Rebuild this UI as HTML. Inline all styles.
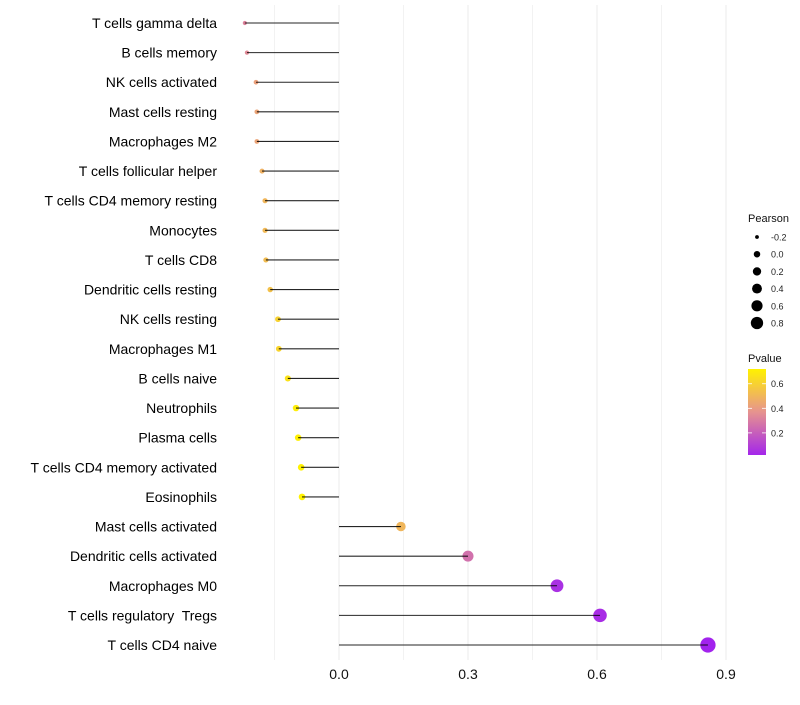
<!DOCTYPE html>
<html><head><meta charset="utf-8"><style>
body{margin:0;background:#fff;font-family:"Liberation Sans",sans-serif}
text{white-space:pre}
</style></head><body>
<svg id="c" width="800" height="700" xmlns="http://www.w3.org/2000/svg"></svg>
<script>
const categories=["T cells gamma delta","B cells memory","NK cells activated","Mast cells resting","Macrophages M2","T cells follicular helper","T cells CD4 memory resting","Monocytes","T cells CD8","Dendritic cells resting","NK cells resting","Macrophages M1","B cells naive","Neutrophils","Plasma cells","T cells CD4 memory activated","Eosinophils","Mast cells activated","Dendritic cells activated","Macrophages M0","T cells regulatory  Tregs","T cells CD4 naive"];
const pearson=[-0.219,-0.214,-0.193,-0.191,-0.191,-0.179,-0.172,-0.172,-0.170,-0.160,-0.142,-0.140,-0.119,-0.100,-0.095,-0.088,-0.086,0.144,0.300,0.507,0.607,0.858];
const pvalue=[0.32,0.34,0.42,0.43,0.43,0.48,0.5,0.51,0.52,0.54,0.6,0.61,0.66,0.7,0.71,0.72,0.72,0.5,0.26,0.05,0.04,0.01];
const xTicks=[0,0.3,0.6,0.9];
const sizeLegend=[-0.2,0,0.2,0.4,0.6,0.8];
const colorTicks=[0.2,0.4,0.6];
const NS="http://www.w3.org/2000/svg",svg=document.getElementById('c');
const x=v=>339+v*430;
const y=i=>23+i*(645-23)/21;
const r=v=>Math.sqrt(Math.max(1,11.65+38.25*v));
function col(p){const s=[[0,[160,32,240]],[0.38,[232,150,140]],[0.72,[255,242,0]]];p=Math.max(0,Math.min(0.72,p));
for(let k=0;k<2;k++){const[a,ca]=s[k],[b,cb]=s[k+1];if(p<=b){const t=(p-a)/(b-a);return 'rgb('+ca.map((c,j)=>Math.round(c+(cb[j]-c)*t)).join(',')+')';}}return 'rgb(255,242,0)';}
function el(t,a,txt){const e=document.createElementNS(NS,t);for(const k in a)e.setAttribute(k,a[k]);if(txt!==undefined)e.textContent=txt;svg.appendChild(e);return e;}
[-0.15,0.15,0.45,0.75].forEach(v=>{const g=el('line',{x1:x(v),x2:x(v),y1:5,y2:660,stroke:'#f2f2f2','stroke-width':1});

});
xTicks.forEach(v=>{const g=el('line',{x1:x(v),x2:x(v),y1:5,y2:660,stroke:'#ebebeb','stroke-width':1});


const t=el('text',{x:x(v),y:679,'text-anchor':'middle','font-size':14,fill:'#111'},v.toFixed(1));

});
categories.forEach((c,i)=>{
const t=el('text',{x:217,y:y(i)+5,'text-anchor':'end','font-size':14,fill:'#000'},c);


const p=el('circle',{cx:x(pearson[i]),cy:y(i),r:r(pearson[i])*1.15,fill:col(pvalue[i])});


const l=el('line',{x1:x(0),x2:x(pearson[i]),y1:y(i),y2:y(i),stroke:'#000','stroke-width':1.1,'stroke-opacity':0.85});

});
let t=el('text',{x:748,y:222,'font-size':11,fill:'#111'},'Pearson');


sizeLegend.forEach((v,k)=>{const cy=237+k*17.2;
const c=el('circle',{cx:757,cy:cy,r:r(v)*0.95,fill:'#000'});


const tt=el('text',{x:771,y:cy+3.5,'font-size':9,fill:'#222'},v.toFixed(1));

});
t=el('text',{x:748,y:362,'font-size':11,fill:'#111'},'Pvalue');


const defs=el('defs',{});const lg=document.createElementNS(NS,'linearGradient');lg.setAttribute('id','g');lg.setAttribute('x1','0');lg.setAttribute('y1','1');lg.setAttribute('x2','0');lg.setAttribute('y2','0');defs.appendChild(lg);
for(let k=0;k<=10;k++){const s=document.createElementNS(NS,'stop');s.setAttribute('offset',k/10);s.setAttribute('stop-color',col(0.02+0.7*k/10));lg.appendChild(s);}
const bar=el('rect',{x:748,y:369,width:18,height:86,fill:'url(#g)'});


colorTicks.forEach(v=>{const cy=455-(v-0.02)/0.7*86;
el('line',{x1:748,x2:752,y1:cy,y2:cy,stroke:'#fff','stroke-width':0.8});el('line',{x1:762,x2:766,y1:cy,y2:cy,stroke:'#fff','stroke-width':0.8});
const tt=el('text',{x:771,y:cy+3.5,'font-size':9,fill:'#222'},v.toFixed(1));

});
</script>
</body></html>
